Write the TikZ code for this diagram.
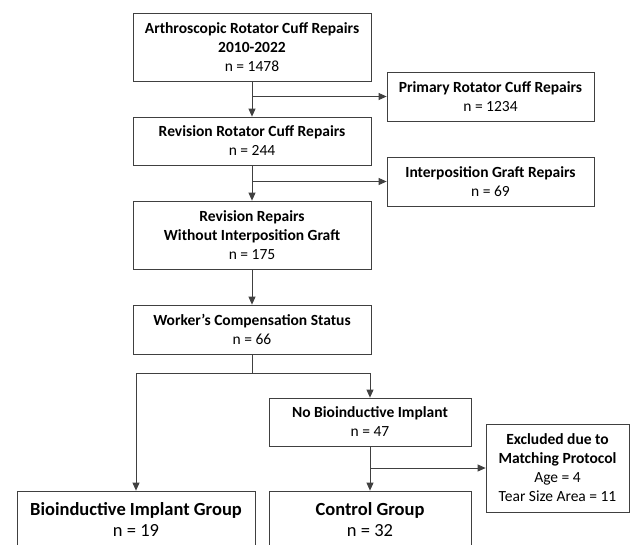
\documentclass[tikz,border=0pt]{standalone}
\usepackage{fontspec}
\setmainfont{Carlito}
\usepackage{tikz}
\usetikzlibrary{arrows.meta,calc}

\begin{document}
\begin{tikzpicture}[x=1pt,y=-1pt,
	box/.style={draw=black!75, line width=0.8pt, align=center, inner sep=0pt,
		font=\fontsize{15.5}{19}\selectfont},
	grp/.style={box, font=\fontsize{18.5}{21}\selectfont},
	arr/.style={draw=black!75, line width=0.8pt, -{Triangle[length=8pt,width=7pt]}}]
	\clip (0,0) rectangle (636,544);
	\fill[white] (0,0) rectangle (636,544);
%
	\node[box, minimum width=238, minimum height=68] (arcr) at (252,47) {\textbf{Arthroscopic Rotator Cuff Repairs}\\\textbf{2010-2022}\\n = 1478};
	\node[box, minimum width=207, minimum height=49] (prim) at (490.5,96.5) {\textbf{Primary Rotator Cuff Repairs}\\n = 1234};
	\node[box, minimum width=238, minimum height=48] (rev) at (252,141) {\textbf{Revision Rotator Cuff Repairs}\\n = 244};
	\node[box, minimum width=207, minimum height=49] (graft) at (490.5,181.5) {\textbf{Interposition Graft Repairs}\\n = 69};
	\node[box, minimum width=238, minimum height=68] (nograft) at (252,235) {\textbf{Revision Repairs}\\\textbf{Without Interposition Graft}\\n = 175};
	\node[box, minimum width=238, minimum height=49] (wc) at (252,329.5) {\textbf{Worker's Compensation Status}\\n = 66};
	\node[box, minimum width=202, minimum height=48] (nobio) at (370,422) {\textbf{No Bioinductive Implant}\\n = 47};
	\node[box, minimum width=143, minimum height=88] (excl) at (557.5,468) {\textbf{Excluded due to}\\\textbf{Matching Protocol}\\Age = 4\\Tear Size Area = 11};
	\node[grp, minimum width=238, minimum height=57] (bio) at (136,519.5) {\textbf{Bioinductive Implant Group}\\n = 19};
	\node[grp, minimum width=202, minimum height=57] (ctrl) at (370,519.5) {\textbf{Control Group}\\n = 32};
%
	\coordinate (split) at (252,373);
	\draw[arr] (arcr) -- (rev);
	\draw[arr] (arcr.south |- prim.west) -- (prim);
	\draw[arr] (rev) -- (nograft);
	\draw[arr] (rev.south |- graft.west) -- (graft);
	\draw[arr] (nograft) -- (wc);
	\draw[draw=black!75, line width=0.8pt] (wc) -- (split);
	\draw[arr] (split) -| (bio);
	\draw[arr] (split) -| (nobio);
	\draw[arr] (nobio) -- (ctrl);
	\draw[arr] (nobio.south |- excl.west) -- (excl);
\end{tikzpicture}
\end{document}
